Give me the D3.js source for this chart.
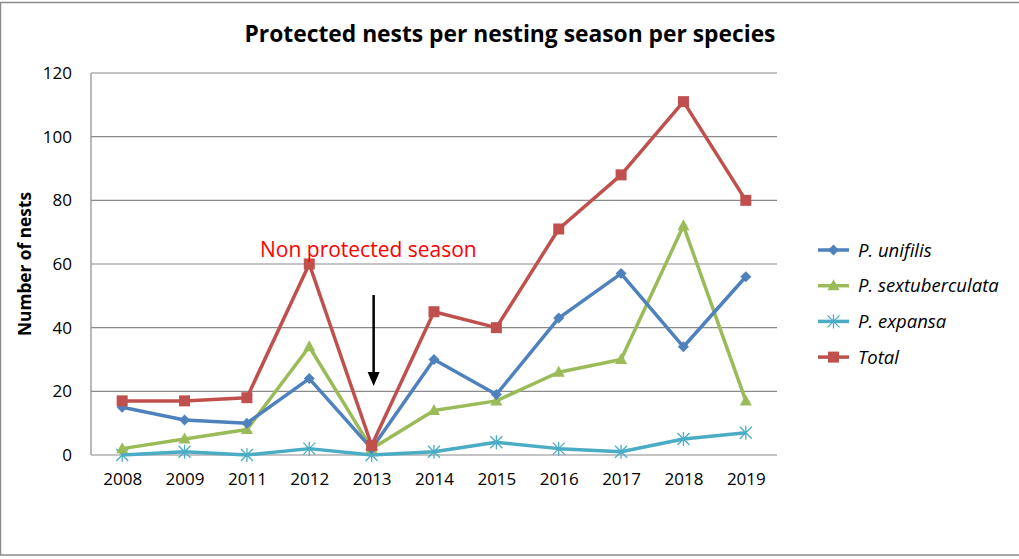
<!DOCTYPE html>
<html><head><meta charset="utf-8">
<script src="https://cdn.jsdelivr.net/npm/d3@7"></script>
<style>body{margin:0;background:#fff}svg{display:block}</style>
</head><body><svg id="c" width="1019" height="559"></svg>
<script>
const years = ["2008","2009","2011","2012","2013","2014","2015","2016","2017","2018","2019"];
const unifilis = [15,11,10,24,2,30,19,43,57,34,56];
const sextuberculata = [2,5,8,34,2,14,17,26,30,72,17];
const expansa = [0,1,0,2,0,1,4,2,1,5,7];
const total = [17,17,18,60,3,45,40,71,88,111,80];
const yTicks = [0,20,40,60,80,100,120];
const seriesNames = ["P. unifilis","P. sextuberculata","P. expansa","Total"];

const series = [
  {name: seriesNames[0], values: unifilis, color: "#4F81BD", marker: "diamond"},
  {name: seriesNames[1], values: sextuberculata, color: "#9BBB59", marker: "triangle"},
  {name: seriesNames[2], values: expansa, color: "#4BACC6", marker: "asterisk"},
  {name: seriesNames[3], values: total, color: "#C0504D", marker: "square"}
];
const drawOrder = [2,1,0,3];

const svg = d3.select("#c");
const font = "'Open Sans', sans-serif";
// outer frame
svg.append("rect").attr("x",0.5).attr("y",2.5).attr("width",1030).attr("height",552.5)
  .attr("fill","none").attr("stroke","#8c8c8c").attr("stroke-width",1.5);

const L=91, R=777, T=73, B=455;
const x = d3.scalePoint().domain(years).range([L,R]).padding(0.5);
const y = d3.scaleLinear().domain([0,120]).range([B,T]);

// grid
svg.append("g").selectAll("line").data(yTicks).join("line")
  .attr("x1",L).attr("x2",R).attr("y1",d=>y(d)).attr("y2",d=>y(d))
  .attr("stroke","#8a8a8a").attr("stroke-width",1.2);
svg.append("line").attr("x1",L).attr("x2",L).attr("y1",T).attr("y2",B)
  .attr("stroke","#8a8a8a").attr("stroke-width",1.2);

// y axis labels
const yAxis = d3.axisLeft(y).tickValues(yTicks).tickSize(0).tickPadding(19);
const gy = svg.append("g").attr("transform",`translate(${L},0)`).call(yAxis);
gy.select(".domain").remove();
gy.selectAll("text").attr("font-family",font).attr("font-size",17).attr("fill","#000");

const xAxis = d3.axisBottom(x).tickSize(0).tickPadding(18);
const gx = svg.append("g").attr("transform",`translate(0,${B})`).call(xAxis);
gx.select(".domain").remove();
gx.selectAll("text").attr("font-family",font).attr("font-size",17).attr("fill","#000");

// title
svg.append("text").attr("x",510).attr("y",42).attr("text-anchor","middle")
  .attr("font-family",font).attr("font-weight","bold").attr("font-size",22.8)
  .text("Protected nests per nesting season per species");
svg.append("text").attr("transform","translate(31,264) rotate(-90)").attr("text-anchor","middle")
  .attr("font-family",font).attr("font-weight","bold").attr("font-size",17.3)
  .text("Number of nests");

function marker(g, type, color, cx, cy) {
  if (type==="diamond") {
    g.append("path").attr("d",`M${cx},${cy-5.5}L${cx+5.5},${cy}L${cx},${cy+5.5}L${cx-5.5},${cy}Z`).attr("fill",color);
  } else if (type==="triangle") {
    g.append("path").attr("d",`M${cx},${cy-6.5}L${cx+6},${cy+4.5}L${cx-6},${cy+4.5}Z`).attr("fill",color);
  } else if (type==="square") {
    g.append("rect").attr("x",cx-5.5).attr("y",cy-5.5).attr("width",11).attr("height",11).attr("fill",color);
  } else {
    const r=6;
    g.append("path").attr("d",`M${cx-r},${cy-r}L${cx+r},${cy+r}M${cx-r},${cy+r}L${cx+r},${cy-r}M${cx},${cy-r-1}L${cx},${cy+r+1}`)
      .attr("stroke",color).attr("stroke-width",1.3).attr("fill","none");
  }
}

const line = d3.line().x((d,i)=>x(years[i])).y(d=>y(d));
drawOrder.forEach(k=>{
  const s = series[k];
  const g = svg.append("g");
  g.append("path").attr("d",line(s.values)).attr("fill","none").attr("stroke",s.color)
    .attr("stroke-width",3.5).attr("stroke-linejoin","round");
  s.values.forEach((v,i)=>marker(g,s.marker,s.color,x(years[i]),y(v)));
});

// annotation
svg.append("text").attr("x",260).attr("y",257).attr("font-family",font).attr("font-size",21)
  .attr("fill","#FF0000").text("Non protected season");
const ax=x("2013")+2;
svg.append("line").attr("x1",ax).attr("x2",ax).attr("y1",295).attr("y2",376)
  .attr("stroke","#000").attr("stroke-width",2.5);
svg.append("path").attr("d",`M${ax-6},${372}L${ax+6},${372}L${ax},${386}Z`).attr("fill","#000");

// legend
const lg = svg.append("g");
series.forEach((s,i)=>{
  const ly = 250 + i*35.7;
  lg.append("line").attr("x1",818).attr("x2",849).attr("y1",ly).attr("y2",ly)
    .attr("stroke",s.color).attr("stroke-width",3.5);
  marker(lg,s.marker,s.color,833.5,ly);
  lg.append("text").attr("x",858).attr("y",ly+6.5).attr("font-family",font)
    .attr("font-style","italic").attr("font-size",18.5).text(s.name);
});
</script></body></html>
